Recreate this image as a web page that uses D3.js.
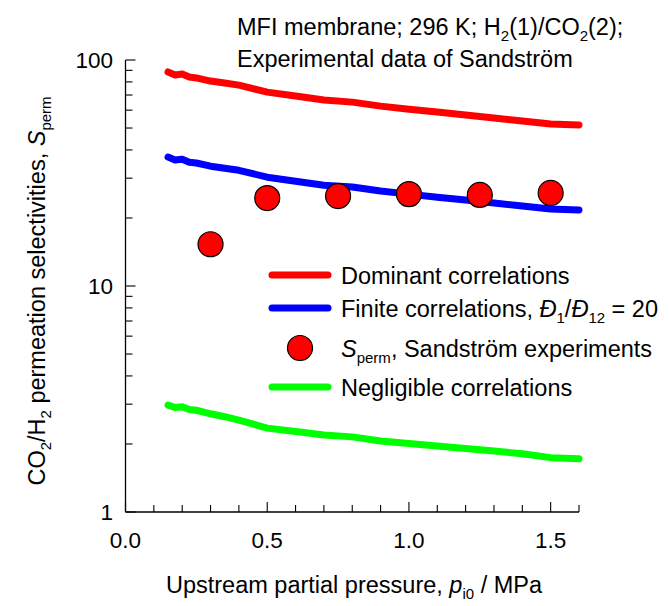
<!DOCTYPE html>
<html lang="en">
<head>
<meta charset="UTF-8">
<title>CO2/H2 permeation selectivities</title>
<script src="https://d3js.org/d3.v7.min.js"></script>
<style>
  body { margin: 0; background: #fff; }
  text { font-family: "Liberation Sans", Arial, sans-serif; fill: #000; }
</style>
</head>
<body>
<svg id="chart"></svg>
<script>
// upstream partial pressure, MPa
var pressure = [0.15, 0.175, 0.2, 0.225, 0.25, 0.3, 0.35, 0.4, 0.5, 0.6, 0.7, 0.8, 0.9, 1.0, 1.1, 1.2, 1.3, 1.4, 1.5, 1.6];
var dominant = [88.5, 85.9, 86.7, 84.1, 83.3, 80.7, 79.1, 77.4, 72.1, 69.3, 66.5, 65.1, 62.5, 60.6, 58.9, 57.1, 55.4, 53.7, 52.1, 51.6];
var finite = [37.2, 36.1, 36.4, 35.3, 35.0, 33.9, 33.2, 32.5, 30.3, 29.1, 27.9, 27.4, 26.3, 25.5, 24.7, 24.0, 23.3, 22.6, 21.9, 21.7];
var negligible = [2.97, 2.90, 2.92, 2.84, 2.82, 2.72, 2.64, 2.55, 2.35, 2.27, 2.19, 2.15, 2.06, 2.01, 1.96, 1.91, 1.86, 1.81, 1.74, 1.72];

// Sandstrom experiments
var expP = [0.3, 0.5, 0.75, 1.0, 1.25, 1.5];
var expS = [15.3, 24.5, 25.0, 25.5, 25.3, 25.8];

var xTicks = [0.0, 0.5, 1.0, 1.5];
var yTicks = [1, 10, 100];

var width = 669, height = 606;
var fs = "23.5px", subFs = "15px", tickFs = "22.5px";
var svg = d3.select("#chart").attr("width", width).attr("height", height);

var x = d3.scaleLinear().domain([0, 1.6]).range([125.5, 579]);
var y = d3.scaleLog().domain([1, 100]).range([512, 60]);

// axes, ticks pointing inward
var xMinor = d3.range(0, 17).map(function(i) { return i / 10; });
var gx = svg.append("g").attr("transform", "translate(0,512)");
gx.append("line").attr("x1", x(0)).attr("x2", x(1.6)).attr("stroke", "#000").attr("stroke-width", 1.3);
gx.selectAll(".xt").data(xMinor).enter().append("line")
    .attr("x1", function(d) { return x(d); })
    .attr("x2", function(d) { return x(d); })
    .attr("y1", 0)
    .attr("y2", function(d, i) { return i % 5 == 0 ? -10 : -7; })
    .attr("stroke", "#000").attr("stroke-width", 1.1);
gx.selectAll(".xl").data(xTicks).enter().append("text")
    .attr("x", function(d) { return x(d); })
    .attr("y", 36)
    .attr("text-anchor", "middle")
    .style("font-size", tickFs)
    .text(function(d) { return d3.format(".1f")(d); });

var yMinor = [];
[1, 10].forEach(function(b) { d3.range(1, 10).forEach(function(k) { yMinor.push(b * k); }); });
yMinor.push(100);
var gy = svg.append("g").attr("transform", "translate(" + x(0) + ",0)");
gy.append("line").attr("y1", y(1)).attr("y2", y(100)).attr("stroke", "#000").attr("stroke-width", 1.3);
gy.selectAll(".yt").data(yMinor).enter().append("line")
    .attr("y1", function(d) { return y(d); })
    .attr("y2", function(d) { return y(d); })
    .attr("x1", 0)
    .attr("x2", function(d) { return yTicks.indexOf(d) >= 0 ? 10 : 7; })
    .attr("stroke", "#000").attr("stroke-width", 1.1);
gy.selectAll(".yl").data(yTicks).enter().append("text")
    .attr("x", -12.5)
    .attr("y", function(d) { return y(d); })
    .attr("dy", "0.35em")
    .attr("text-anchor", "end")
    .style("font-size", tickFs)
    .text(function(d) { return d; });

// curves
var line = d3.line()
    .x(function(d) { return x(d[0]); })
    .y(function(d) { return y(d[1]); });

var series = [
  { values: dominant, color: "#ff0000" },
  { values: finite, color: "#0000ff" },
  { values: negligible, color: "#00ff00" }
];
series.forEach(function(s) {
  svg.append("path")
      .datum(d3.zip(pressure, s.values))
      .attr("d", line)
      .attr("fill", "none")
      .attr("stroke", s.color)
      .attr("stroke-width", 7)
      .attr("stroke-linecap", "round")
      .attr("stroke-linejoin", "round");
});

svg.selectAll(".pt").data(d3.zip(expP, expS)).enter().append("circle")
    .attr("cx", function(d) { return x(d[0]); })
    .attr("cy", function(d) { return y(d[1]); })
    .attr("r", 12.5)
    .attr("fill", "#ff0000")
    .attr("stroke", "#000")
    .attr("stroke-width", 1.2);

// helper for text with subscripts: parts = [[text, "n"|"i"|"s"]]
function rich(sel, parts) {
  var shift = 0;
  parts.forEach(function(p) {
    var t = sel.append("tspan").text(p[0]);
    var want = p[1] == "s" ? 6 : 0;
    if (want != shift) { t.attr("dy", want - shift); shift = want; }
    if (p[1] == "s") t.style("font-size", subFs);
    if (p[1] == "i") t.style("font-style", "italic");
  });
}

// title
var title = svg.append("text").attr("x", 237).attr("y", 35).style("font-size", fs);
rich(title, [["MFI membrane; 296 K; H", "n"], ["2", "s"], ["(1)/CO", "n"], ["2", "s"], ["(2);", "n"]]);
svg.append("text").attr("x", 237).attr("y", 67).style("font-size", fs).text("Experimental data of Sandstr\u00f6m");

// legend
var lg = svg.append("g");
var legendRows = [
  { type: "line", color: "#ff0000", y: 275 },
  { type: "line", color: "#0000ff", y: 308 },
  { type: "dot", color: "#ff0000", y: 348 },
  { type: "line", color: "#00ff00", y: 387 }
];
legendRows.forEach(function(r) {
  if (r.type == "line") {
    lg.append("line").attr("x1", 272).attr("x2", 328).attr("y1", r.y).attr("y2", r.y)
      .attr("stroke", r.color).attr("stroke-width", 7).attr("stroke-linecap", "round");
  } else {
    lg.append("circle").attr("cx", 300).attr("cy", r.y).attr("r", 12.5)
      .attr("fill", r.color).attr("stroke", "#000").attr("stroke-width", 1.2);
  }
});
rich(lg.append("text").attr("x", 341).attr("y", 283.5).style("font-size", fs),
  [["Dominant correlations", "n"]]);
rich(lg.append("text").attr("x", 341).attr("y", 316.5).style("font-size", fs),
  [["Finite correlations, ", "n"], ["\u0110", "i"], ["1", "s"], ["/", "n"], ["\u0110", "i"], ["12", "s"], [" = 20", "n"]]);
rich(lg.append("text").attr("x", 341).attr("y", 356.5).style("font-size", fs),
  [["S", "i"], ["perm", "s"], [", Sandstr\u00f6m experiments", "n"]]);
rich(lg.append("text").attr("x", 341).attr("y", 395.5).style("font-size", fs),
  [["Negligible correlations", "n"]]);

// axis titles
var xl = svg.append("text").attr("x", 354).attr("y", 593).attr("text-anchor", "middle").style("font-size", fs);
rich(xl, [["Upstream partial pressure, ", "n"], ["p", "i"], ["i0", "s"], [" / MPa", "n"]]);

var yl = svg.append("text")
    .attr("transform", "translate(45,291) rotate(-90)")
    .attr("text-anchor", "middle")
    .style("font-size", fs);
rich(yl, [["CO", "n"], ["2", "s"], ["/H", "n"], ["2", "s"], [" permeation selectivities, ", "n"], ["S", "i"], ["perm", "s"]]);
</script>
</body>
</html>
